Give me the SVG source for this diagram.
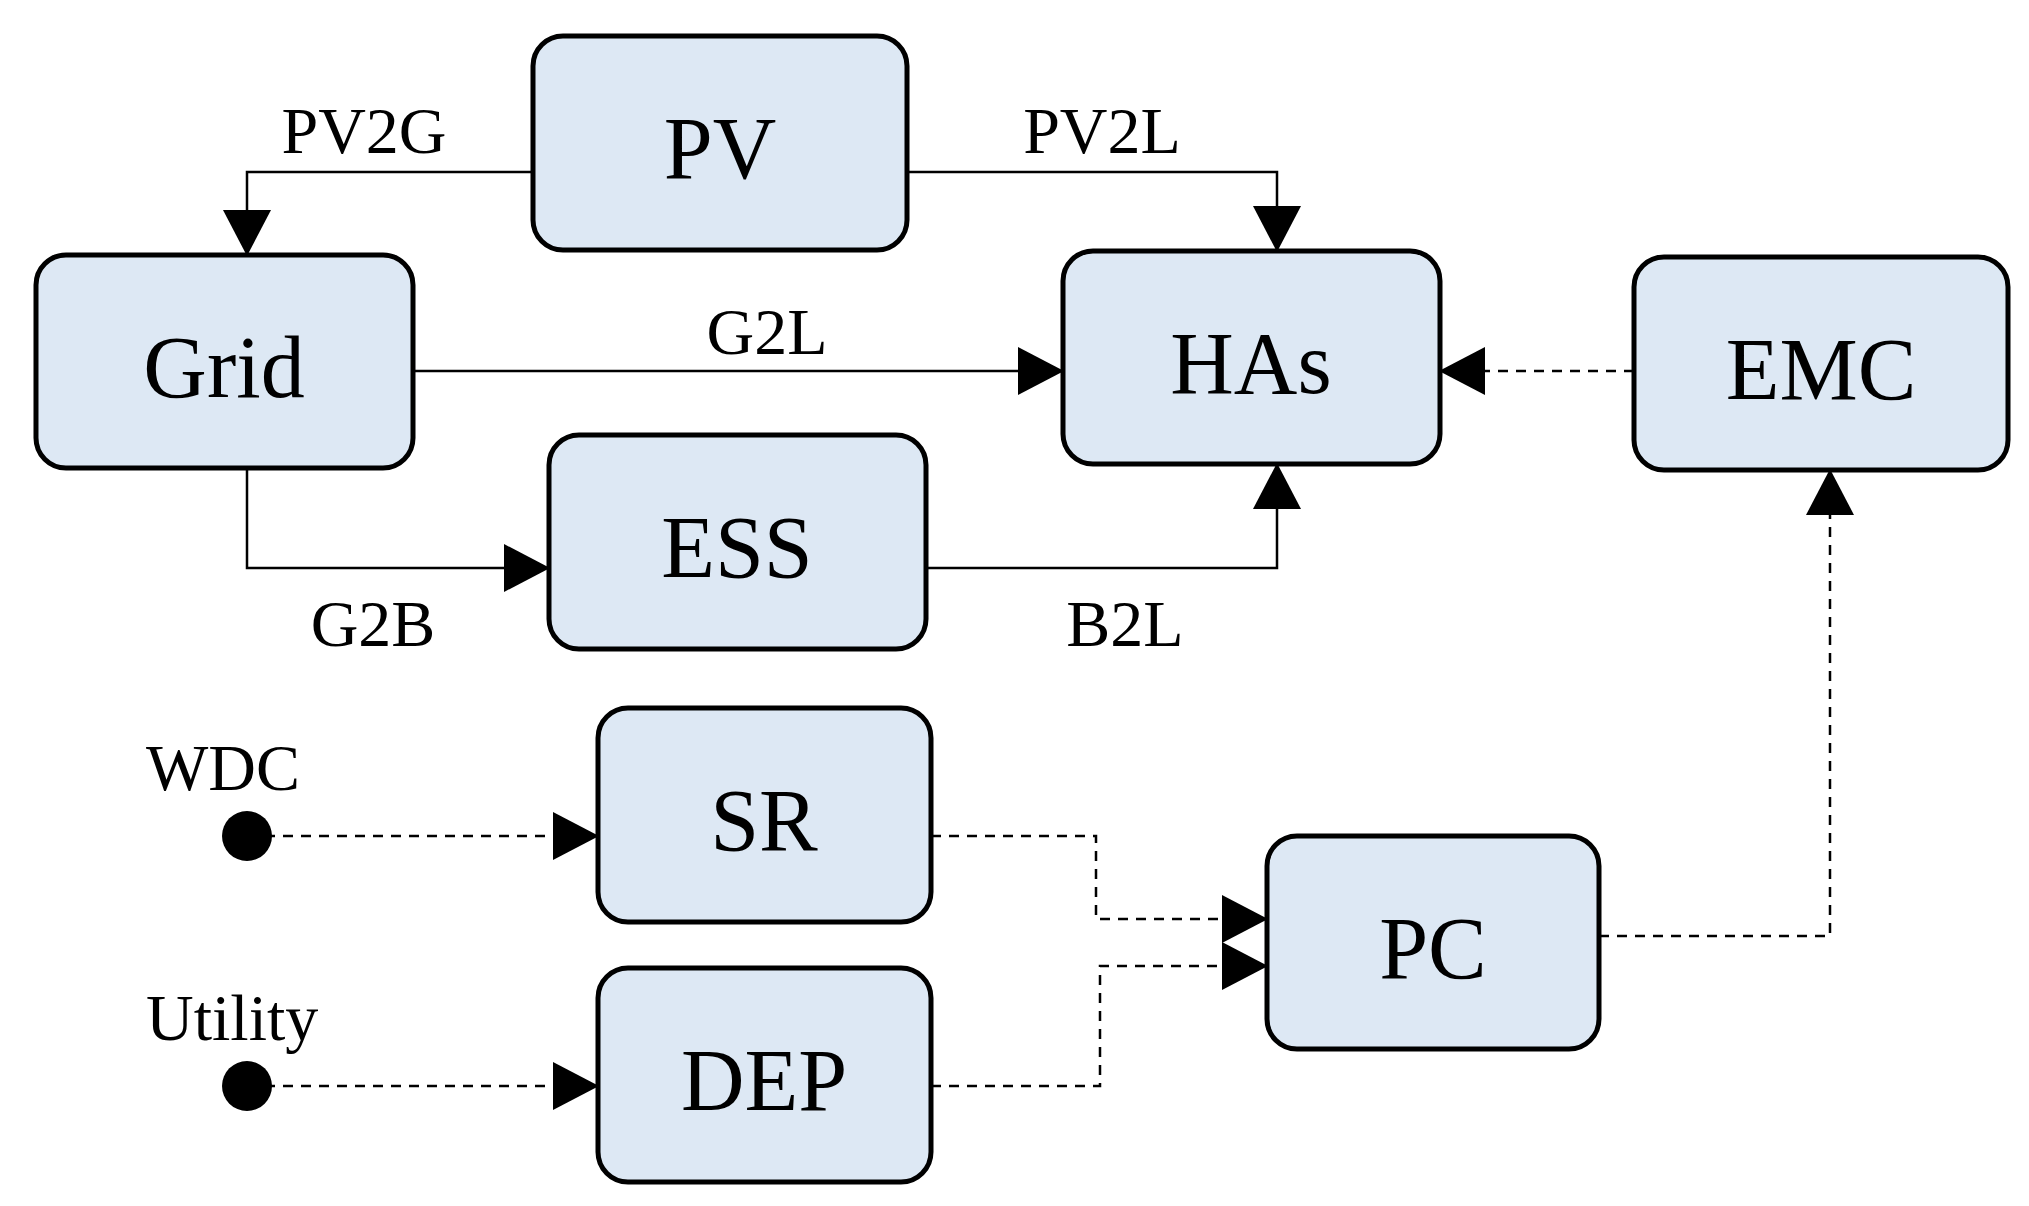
<svg xmlns="http://www.w3.org/2000/svg" width="2029" height="1206" viewBox="0 0 2029 1206">
<style>
.n{fill:#dde8f4;stroke:#000;stroke-width:5}
.t{font-family:"Liberation Serif",serif;font-size:88px;text-anchor:middle;dominant-baseline:central}
.l{font-family:"Liberation Serif",serif;font-size:66px;text-anchor:middle}
.c{fill:none;stroke:#000;stroke-width:2.5;marker-end:url(#a)}
.d{stroke-dasharray:10 8}
</style>
<defs><marker id="a" markerUnits="userSpaceOnUse" markerWidth="46" markerHeight="48" refX="45" refY="24" orient="auto"><path d="M0,0L46,24L0,48Z"/></marker></defs>
<rect width="2029" height="1206" fill="#fff"/>
<g id="connectors">
<path class="c" d="M533,172H247V255"/>
<path class="c" d="M907,172H1277V251"/>
<path class="c" d="M413,371H1063"/>
<path class="c" d="M247,468V568H549"/>
<path class="c" d="M926,568H1277V464"/>
<path class="c d" d="M1634,371H1440"/>
<path class="c d" d="M247,836H598"/>
<path class="c d" d="M247,1086H598"/>
<path class="c d" d="M931,836H1096V919H1267"/>
<path class="c d" d="M931,1086H1100V966H1267"/>
<path class="c d" d="M1599,936H1830V470"/>
<circle cx="247" cy="836" r="25"/>
<circle cx="247" cy="1086" r="25"/>
<text class="l" x="364" y="153">PV2G</text>
<text class="l" x="1102" y="153">PV2L</text>
<text class="l" x="767" y="354">G2L</text>
<text class="l" x="373" y="646">G2B</text>
<text class="l" x="1125" y="646">B2L</text>
<text class="l" x="146" y="790" style="text-anchor:start">WDC</text>
<text class="l" x="146" y="1040" style="text-anchor:start">Utility</text>
</g>
<g id="PV"><rect class="n" x="533" y="36" width="374" height="214" rx="30"/><text class="t" x="720" y="148">PV</text></g>
<g id="Grid"><rect class="n" x="36" y="255" width="377" height="213" rx="30"/><text class="t" x="224" y="367">Grid</text></g>
<g id="HAs"><rect class="n" x="1063" y="251" width="377" height="213" rx="30"/><text class="t" x="1251" y="363">HAs</text></g>
<g id="EMC"><rect class="n" x="1634" y="257" width="374" height="213" rx="30"/><text class="t" x="1821" y="369">EMC</text></g>
<g id="ESS"><rect class="n" x="549" y="435" width="377" height="214" rx="30"/><text class="t" x="737" y="547">ESS</text></g>
<g id="SR"><rect class="n" x="598" y="708" width="333" height="214" rx="30"/><text class="t" x="764" y="820">SR</text></g>
<g id="DEP"><rect class="n" x="598" y="968" width="333" height="214" rx="30"/><text class="t" x="764" y="1080">DEP</text></g>
<g id="PC"><rect class="n" x="1267" y="836" width="332" height="213" rx="30"/><text class="t" x="1433" y="948">PC</text></g>
</svg>
